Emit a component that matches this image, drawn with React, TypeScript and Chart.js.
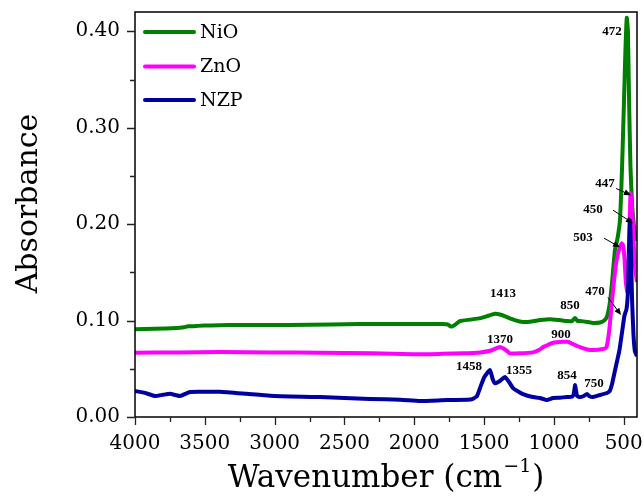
import React, { useEffect, useRef } from "react";
import { Chart, registerables } from "chart.js";

Chart.register(...registerables);

// ---------- data ----------
const nioWave = [4000, 3860, 3700, 3650, 3620, 3550, 3460, 3200, 2900, 2600, 2390, 2100, 1900, 1800, 1760, 1740, 1720, 1673, 1600, 1529, 1470, 1422, 1380, 1336, 1280, 1221, 1160, 1100, 1028, 960, 906, 870, 849, 830, 813, 760, 720, 670, 640, 620, 600, 584, 563, 545, 527, 512, 498, 488, 478, 470, 462, 452, 440, 428, 415, 405];
const nioAbs = [0.091, 0.0915, 0.0922, 0.093, 0.094, 0.0945, 0.095, 0.0955, 0.0955, 0.096, 0.0965, 0.0965, 0.0965, 0.0965, 0.096, 0.094, 0.0945, 0.0995, 0.101, 0.1025, 0.105, 0.107, 0.106, 0.1036, 0.1005, 0.0985, 0.099, 0.1005, 0.1015, 0.1005, 0.0995, 0.0995, 0.1026, 0.0995, 0.0995, 0.0985, 0.0975, 0.098, 0.1, 0.104, 0.118, 0.139, 0.173, 0.185, 0.204, 0.259, 0.328, 0.38, 0.414, 0.4, 0.33, 0.26, 0.22, 0.2, 0.187, 0.183];

const znoWave = [4000, 3700, 3391, 3000, 2675, 2300, 2009, 1800, 1651, 1529, 1450, 1386, 1340, 1315, 1250, 1150, 1100, 1078, 1040, 1007, 935, 900, 863, 813, 760, 720, 649, 625, 613, 600, 584, 563, 548, 530, 515, 505, 495, 485, 475, 465, 452, 443, 435, 425, 415, 405];
const znoAbs = [0.0667, 0.067, 0.0675, 0.067, 0.0667, 0.066, 0.065, 0.0655, 0.066, 0.067, 0.069, 0.0725, 0.069, 0.066, 0.066, 0.067, 0.07, 0.0725, 0.075, 0.077, 0.078, 0.078, 0.0756, 0.0725, 0.07, 0.0694, 0.0705, 0.072, 0.08, 0.095, 0.121, 0.15, 0.165, 0.175, 0.18, 0.178, 0.165, 0.14, 0.13, 0.16, 0.232, 0.22, 0.2, 0.17, 0.15, 0.14];

const nzpWave = [4000, 3930, 3857, 3800, 3749, 3678, 3606, 3500, 3391, 3200, 3033, 2800, 2675, 2500, 2317, 2100, 1959, 1766, 1620, 1580, 1550, 1529, 1500, 1458, 1440, 1422, 1390, 1350, 1320, 1293, 1250, 1221, 1160, 1100, 1050, 1007, 960, 906, 870, 858, 848, 835, 815, 790, 763, 745, 720, 670, 620, 600, 584, 560, 531, 510, 495, 480, 470, 463, 455, 448, 440, 430, 420, 405];
const nzpAbs = [0.027, 0.025, 0.0218, 0.023, 0.024, 0.0218, 0.026, 0.0262, 0.0262, 0.024, 0.022, 0.021, 0.0207, 0.0197, 0.0187, 0.018, 0.0166, 0.0176, 0.0178, 0.0187, 0.022, 0.03, 0.041, 0.0487, 0.04, 0.035, 0.037, 0.0415, 0.036, 0.03, 0.026, 0.0238, 0.021, 0.0197, 0.0176, 0.0197, 0.02, 0.0207, 0.021, 0.024, 0.033, 0.022, 0.0207, 0.0215, 0.0238, 0.0215, 0.0207, 0.0228, 0.0249, 0.027, 0.034, 0.05, 0.069, 0.09, 0.105, 0.112, 0.13, 0.17, 0.204, 0.17, 0.12, 0.085, 0.068, 0.063];

const seriesNames = ["NiO", "ZnO", "NZP"];
const seriesColors = ["#008000", "#ff00ff", "#0000a0"];
const seriesOrder = [2, 1, 0];

const xMajorTicks = [500, 1000, 1500, 2000, 2500, 3000, 3500, 4000];
const xMinorTicks = [750, 1250, 1750, 2250, 2750, 3250, 3750];
const yMajorTicks = [0, 0.1, 0.2, 0.3, 0.4];
const yMinorTicks = [0.05, 0.15, 0.25, 0.35];

// peak labels (text, wavenumber position, absorbance position)
const peakTexts = ["472", "1413", "850", "1370", "900", "1458", "1355", "854", "750"];
const peakTextWave = [584, 1365, 885, 1386, 949, 1608, 1250, 906, 713];
const peakTextAbs = [0.4, 0.1275, 0.116, 0.08, 0.085, 0.052, 0.0477, 0.0425, 0.035];

// arrowed labels
const arrowTexts = ["447", "450", "503", "470"];
const arrowTextWave = [634, 720, 792, 706];
const arrowTextAbs = [0.2425, 0.2155, 0.1865, 0.1295];
const arrowFromWave = [555, 577, 641, 613];
const arrowFromAbs = [0.237, 0.2145, 0.1855, 0.124];
const arrowToWave = [448, 434, 527, 519];
const arrowToAbs = [0.23, 0.201, 0.176, 0.1057];

const xTitle = "Wavenumber (cm";
const xTitleSup = "\u22121";
const yTitle = "Absorbance";

const SERIF = "'DejaVu Serif', serif";

const decorPlugin = {
  id: "decor",
  afterDatasetsDraw(chart: any) {
    const { ctx, chartArea: a, scales } = chart;
    const x = scales.x;
    const y = scales.y;
    ctx.save();
    // frame
    ctx.strokeStyle = "#000";
    ctx.lineWidth = 1.5;
    ctx.strokeRect(a.left, a.top, a.right - a.left, a.bottom - a.top);
    // ticks
    ctx.lineWidth = 1.3;
    ctx.strokeStyle = "#222";
    ctx.beginPath();
    yMajorTicks.forEach((v) => {
      const p = Math.round(y.getPixelForValue(v)) + 0.5;
      ctx.moveTo(a.left - 8, p);
      ctx.lineTo(a.left, p);
    });
    yMinorTicks.forEach((v) => {
      const p = Math.round(y.getPixelForValue(v)) + 0.5;
      ctx.moveTo(a.left - 5, p);
      ctx.lineTo(a.left, p);
    });
    xMajorTicks.forEach((v) => {
      const p = Math.round(x.getPixelForValue(v)) + 0.5;
      ctx.moveTo(p, a.bottom);
      ctx.lineTo(p, a.bottom + 8);
    });
    xMinorTicks.forEach((v) => {
      const p = Math.round(x.getPixelForValue(v)) + 0.5;
      ctx.moveTo(p, a.bottom);
      ctx.lineTo(p, a.bottom + 5);
    });
    ctx.stroke();

    // legend
    const legendY = [a.top + 20, a.top + 54.5, a.top + 88];
    seriesNames.forEach((name, i) => {
      ctx.strokeStyle = seriesColors[i];
      ctx.lineWidth = 4;
      ctx.lineCap = "round";
      ctx.beginPath();
      ctx.moveTo(a.left + 10, legendY[i]);
      ctx.lineTo(a.left + 59, legendY[i]);
      ctx.stroke();
      ctx.fillStyle = "#000";
      ctx.font = `19px ${SERIF}`;
      ctx.textAlign = "left";
      ctx.textBaseline = "middle";
      ctx.fillText(name, a.left + 65, legendY[i] + 1);
    });

    // peak labels
    ctx.fillStyle = "#000";
    ctx.font = "bold 13px 'Liberation Serif', serif";
    ctx.textAlign = "center";
    ctx.textBaseline = "middle";
    peakTexts.forEach((t, i) => {
      ctx.fillText(t, x.getPixelForValue(peakTextWave[i]), y.getPixelForValue(peakTextAbs[i]));
    });
    arrowTexts.forEach((t, i) => {
      ctx.fillText(t, x.getPixelForValue(arrowTextWave[i]), y.getPixelForValue(arrowTextAbs[i]));
      const x1 = x.getPixelForValue(arrowFromWave[i]);
      const y1 = y.getPixelForValue(arrowFromAbs[i]);
      const x2 = x.getPixelForValue(arrowToWave[i]);
      const y2 = y.getPixelForValue(arrowToAbs[i]);
      const ang = Math.atan2(y2 - y1, x2 - x1);
      const head = 7;
      ctx.strokeStyle = "#000";
      ctx.lineWidth = 1;
      ctx.lineCap = "butt";
      ctx.beginPath();
      ctx.moveTo(x1, y1);
      ctx.lineTo(x2 - head * Math.cos(ang) * 0.8, y2 - head * Math.sin(ang) * 0.8);
      ctx.stroke();
      ctx.beginPath();
      ctx.moveTo(x2, y2);
      ctx.lineTo(x2 - head * Math.cos(ang) + 3 * Math.sin(ang), y2 - head * Math.sin(ang) - 3 * Math.cos(ang));
      ctx.lineTo(x2 - head * Math.cos(ang) - 3 * Math.sin(ang), y2 - head * Math.sin(ang) + 3 * Math.cos(ang));
      ctx.closePath();
      ctx.fill();
    });

    // axis titles
    ctx.fillStyle = "#000";
    ctx.textBaseline = "alphabetic";
    const cx = (a.left + a.right) / 2;
    ctx.font = `31px ${SERIF}`;
    const w1 = ctx.measureText(xTitle).width;
    const w3 = ctx.measureText(")").width;
    ctx.font = `19px ${SERIF}`;
    const w2 = ctx.measureText(xTitleSup).width;
    const total = w1 + w2 + w3 + 2;
    let sx = cx - total / 2;
    const baseY = a.bottom + 70;
    ctx.textAlign = "left";
    ctx.font = `31px ${SERIF}`;
    ctx.fillText(xTitle, sx, baseY);
    sx += w1 + 1;
    ctx.font = `19px ${SERIF}`;
    ctx.fillText(xTitleSup, sx, baseY - 15);
    sx += w2 + 1;
    ctx.font = `31px ${SERIF}`;
    ctx.fillText(")", sx, baseY);

    ctx.save();
    ctx.translate(37, 203.5);
    ctx.rotate(-Math.PI / 2);
    ctx.textAlign = "center";
    ctx.font = `30px ${SERIF}`;
    ctx.fillText(yTitle, 0, 0);
    ctx.restore();

    ctx.restore();
  },
};

export default function App() {
  const ref = useRef<HTMLCanvasElement | null>(null);
  useEffect(() => {
    if (!ref.current) return;
    const toPts = (w: number[], v: number[]) => w.map((xx, i) => ({ x: xx, y: v[i] }));
    const waves = [nioWave, znoWave, nzpWave];
    const abs = [nioAbs, znoAbs, nzpAbs];
    const chart = new Chart(ref.current, {
      type: "line",
      data: {
        datasets: seriesNames.map((name, i) => ({
          label: name,
          data: toPts(waves[i], abs[i]),
          borderColor: seriesColors[i],
          borderWidth: 4,
          pointRadius: 0,
          tension: 0.15,
          order: seriesOrder[i],
        })),
      },
      options: {
        animation: false,
        responsive: false,
        devicePixelRatio: 1,
        layout: { padding: { top: 12, right: 7, left: 0, bottom: 0 } },
        plugins: { legend: { display: false }, tooltip: { enabled: false } },
        scales: {
          x: {
            type: "linear",
            reverse: true,
            min: 405,
            max: 4000,
            grid: { display: false, drawTicks: false },
            border: { display: false },
            afterBuildTicks: (s: any) => {
              s.ticks = xMajorTicks.map((v) => ({ value: v }));
            },
            afterFit: (s: any) => {
              s.height = 80;
              s.paddingLeft = 0;
              s.paddingRight = 0;
            },
            ticks: {
              autoSkip: false,
              maxRotation: 0,
              padding: 15,
              color: "#000",
              font: { family: "'DejaVu Serif', serif", size: 20 },
              callback: (v: any) => String(v),
            },
          },
          y: {
            type: "linear",
            min: 0,
            max: 0.42,
            grid: { display: false, drawTicks: false },
            border: { display: false },
            afterBuildTicks: (s: any) => {
              s.ticks = yMajorTicks.map((v) => ({ value: v }));
            },
            afterFit: (s: any) => {
              s.width = 135;
              s.paddingTop = 0;
              s.paddingBottom = 0;
            },
            ticks: {
              padding: 15,
              color: "#000",
              font: { family: "'DejaVu Serif', serif", size: 20 },
              callback: (v: any) => Number(v).toFixed(2),
            },
          },
        },
      },
      plugins: [decorPlugin],
    });
    return () => chart.destroy();
  }, []);
  return (
    <div style={{ position: "absolute", left: 0, top: 0, width: 644, height: 497, background: "#fff" }}>
      <canvas ref={ref} width={644} height={497} />
    </div>
  );
}
